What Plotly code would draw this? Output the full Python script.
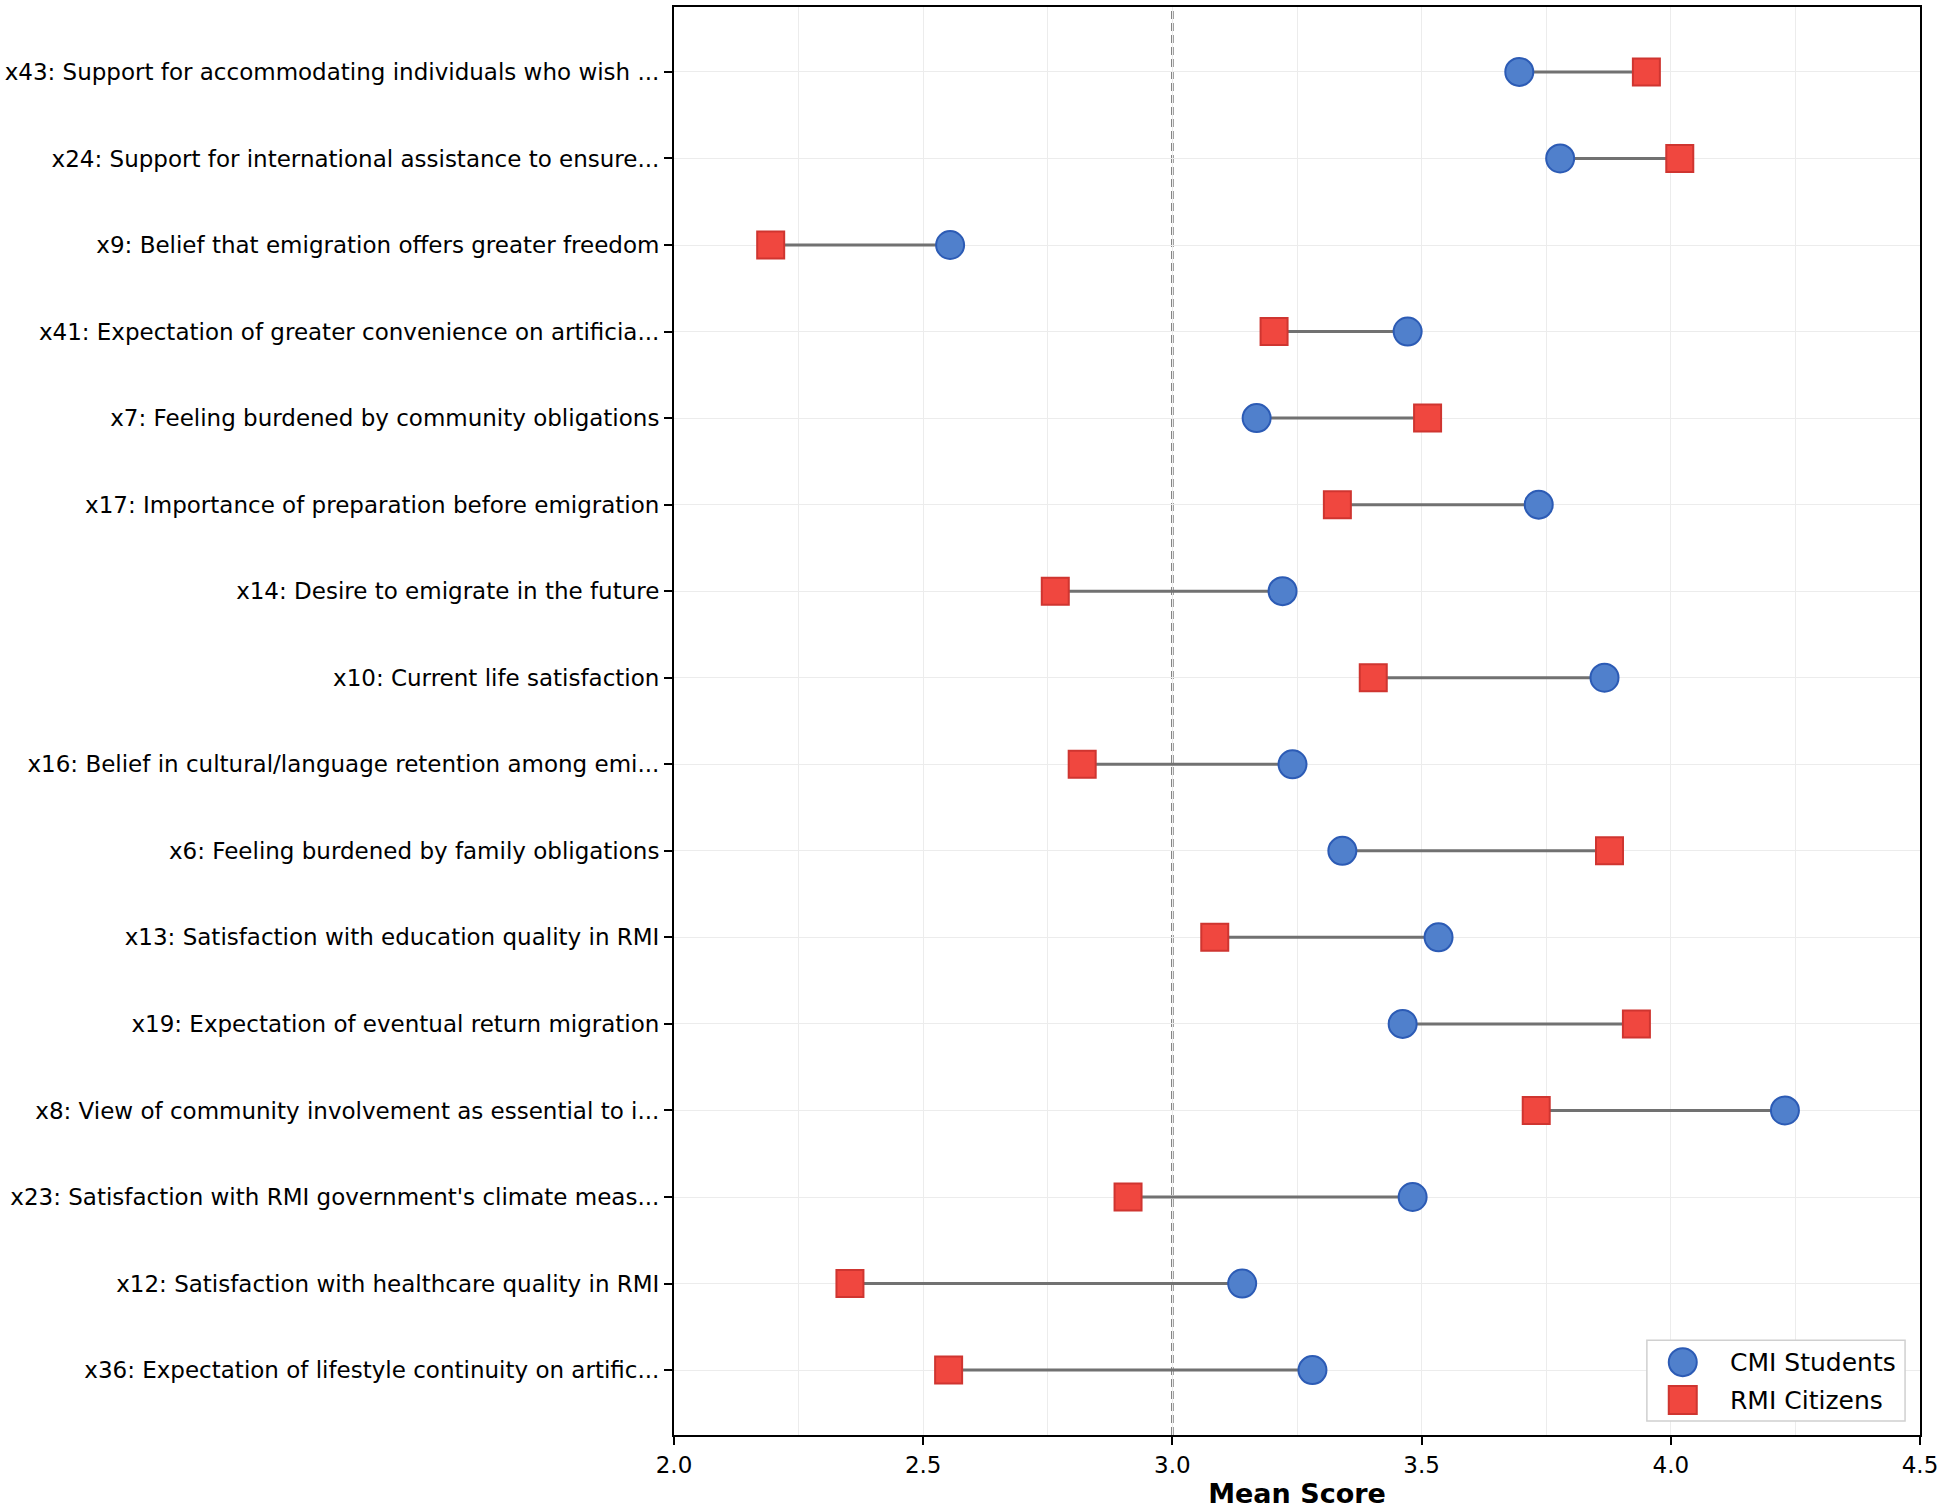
import plotly.graph_objects as go

# ---------------------------------------------- DATA ----------------------------------------------
items = [
    "x43: Support for accommodating individuals who wish ...",
    "x24: Support for international assistance to ensure...",
    "x9: Belief that emigration offers greater freedom",
    "x41: Expectation of greater convenience on artificia...",
    "x7: Feeling burdened by community obligations",
    "x17: Importance of preparation before emigration",
    "x14: Desire to emigrate in the future",
    "x10: Current life satisfaction",
    "x16: Belief in cultural/language retention among emi...",
    "x6: Feeling burdened by family obligations",
    "x13: Satisfaction with education quality in RMI",
    "x19: Expectation of eventual return migration",
    "x8: View of community involvement as essential to i...",
    "x23: Satisfaction with RMI government's climate meas...",
    "x12: Satisfaction with healthcare quality in RMI",
    "x36: Expectation of lifestyle continuity on artific...",
]
cmi_students = [3.696, 3.778, 2.554, 3.472, 3.169, 3.735, 3.221, 3.867,
                3.241, 3.341, 3.534, 3.462, 4.229, 3.482, 3.140, 3.281]
rmi_citizens = [3.951, 4.018, 2.194, 3.204, 3.512, 3.331, 2.765, 3.403,
                2.819, 3.877, 3.085, 3.931, 3.730, 2.911, 2.353, 2.551]

FONT = "DejaVu Sans"
BLUE, BLUE_EDGE = "#5080cc", "#2c5bb5"
RED, RED_EDGE = "#f0473f", "#cf3530"

# ---------------------------------------------- FIGURE --------------------------------------------
fig = go.Figure()

# connector lines
line_x, line_y = [], []
for name, a, b in zip(items, cmi_students, rmi_citizens):
    line_x += [a, b, None]
    line_y += [name, name, None]
fig.add_trace(go.Scatter(x=line_x, y=line_y, mode="lines",
                         line=dict(color="#717171", width=3),
                         showlegend=False, hoverinfo="skip"))

fig.add_trace(go.Scatter(x=cmi_students, y=items, mode="markers", name="CMI Students",
                         showlegend=False,
                         marker=dict(symbol="circle", size=28, color=BLUE,
                                     line=dict(color=BLUE_EDGE, width=2))))
fig.add_trace(go.Scatter(x=rmi_citizens, y=items, mode="markers", name="RMI Citizens",
                         showlegend=False,
                         marker=dict(symbol="square", size=27, color=RED,
                                     line=dict(color=RED_EDGE, width=2))))

# reference line at neutral score
fig.add_vline(x=3.0, line=dict(color="#707070", width=2.5, dash="8px,4px"), layer="below")

# legend drawn by hand so the symbols can be as big as in the plot
fig.add_shape(type="rect", xref="paper", yref="paper", x0=0.7808, x1=0.988, y0=0.0098, y1=0.0664,
              line=dict(color="#d0d0d0", width=1.5), fillcolor="white", layer="above")
fig.add_shape(type="circle", xref="paper", yref="paper", xsizemode="pixel", ysizemode="pixel",
              xanchor=0.8096, yanchor=0.0510, x0=-14, x1=14, y0=-14, y1=14,
              fillcolor=BLUE, line=dict(color=BLUE_EDGE, width=2), layer="above")
fig.add_shape(type="rect", xref="paper", yref="paper", xsizemode="pixel", ysizemode="pixel",
              xanchor=0.8096, yanchor=0.0245, x0=-14, x1=14, y0=-14, y1=14,
              fillcolor=RED, line=dict(color=RED_EDGE, width=2), layer="above")
for label, ypos in [("CMI Students", 0.0510), ("RMI Citizens", 0.0245)]:
    fig.add_annotation(text=label, xref="paper", yref="paper", x=0.8456, y=ypos,
                       xanchor="left", yanchor="middle", showarrow=False,
                       font=dict(family=FONT, size=25, color="black"))

fig.update_xaxes(range=[2.0, 4.5], dtick=0.5, tickformat=".1f",
                 showline=True, mirror=True, linecolor="black", linewidth=2,
                 ticks="outside", ticklen=8, tickwidth=2, tickcolor="black",
                 showgrid=True, gridcolor="#ececec", gridwidth=1,
                 minor=dict(dtick=0.25, showgrid=True, gridcolor="#ececec", gridwidth=1),
                 zeroline=False,
                 tickfont=dict(family=FONT, size=23, color="black"),
                 title=dict(text="<b>Mean Score</b>", standoff=8,
                            font=dict(family=FONT, size=27, color="black")))
fig.update_yaxes(type="category", categoryorder="array", categoryarray=items,
                 range=[15.75, -0.75],
                 showline=True, mirror=True, linecolor="black", linewidth=2,
                 ticks="outside", ticklen=8, tickwidth=2, tickcolor="black",
                 showgrid=True, gridcolor="#ececec", gridwidth=1, zeroline=False,
                 tickfont=dict(family=FONT, size=23, color="black"))

fig.update_layout(width=1943, height=1509,
                  margin=dict(l=669, r=22, t=5, b=73),
                  plot_bgcolor="white", paper_bgcolor="white",
                  font=dict(family=FONT, color="black"),
                  showlegend=False)

fig.write_html("out.html", config={"displayModeBar": False},
               post_script="document.body.style.margin='0';")
